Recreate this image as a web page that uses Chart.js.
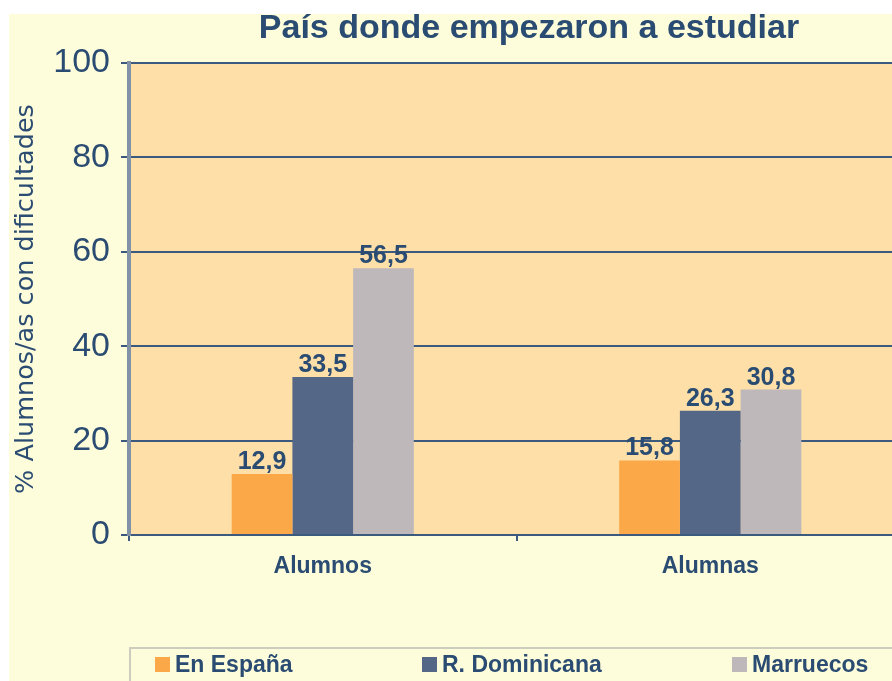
<!DOCTYPE html>
<html>
<head>
<meta charset="utf-8">
<script src="https://cdn.jsdelivr.net/npm/chart.js@4.4.1/dist/chart.umd.min.js"></script>
<style>
  html, body { margin: 0; padding: 0; background: #ffffff; width: 892px; height: 681px; overflow: hidden; }
  #wrap { position: absolute; left: 9px; top: 14px; width: 883px; height: 667px; overflow: hidden; background: #FEFDDB; }
  canvas { display: block; }
</style>
</head>
<body>
<div id="wrap"><canvas id="c" width="900" height="667"></canvas></div>
<script>
// Data
const chartTitle = 'País donde empezaron a estudiar';
const yAxisTitle = '% Alumnos/as con dificultades';
const categories = ['Alumnos', 'Alumnas'];
const seriesNames = ['En España', 'R. Dominicana', 'Marruecos'];
const enEspana = [12.9, 15.8];
const rDominicana = [33.5, 26.3];
const marruecos = [56.5, 30.8];
const yTicks = [0, 20, 40, 60, 80, 100];

// Styles
const INK = '#2B4C72';
const GRID = '#3B5A7E';
const seriesColors = ['#FBA849', '#546787', '#BEB8BB'];

const fmt = v => v.toFixed(1).replace('.', ',');

// Cream page background and peach plot area
const backgroundPlugin = {
  id: 'backgrounds',
  beforeDraw(chart) {
    const { ctx, chartArea: a } = chart;
    ctx.save();
    ctx.fillStyle = '#FEFDDB';
    ctx.fillRect(0, 0, chart.width, chart.height);
    ctx.fillStyle = '#FDDFA7';
    ctx.fillRect(a.left, a.top, a.right - a.left, a.bottom - a.top);
    ctx.restore();
  }
};

// Title text
const titlePlugin = {
  id: 'titleText',
  afterDraw(chart) {
    const ctx = chart.ctx;
    ctx.save();
    ctx.font = 'bold 34px "Liberation Sans", Arial, sans-serif';
    ctx.fillStyle = INK;
    ctx.textAlign = 'center';
    ctx.textBaseline = 'alphabetic';
    ctx.fillText(chartTitle, 520, 24);
    ctx.restore();
  }
};

// Value labels above each bar
const valueLabels = {
  id: 'valueLabels',
  afterDatasetsDraw(chart) {
    const ctx = chart.ctx;
    ctx.save();
    ctx.font = 'bold 25px "Liberation Sans", Arial, sans-serif';
    ctx.fillStyle = INK;
    ctx.textAlign = 'center';
    ctx.textBaseline = 'alphabetic';
    chart.data.datasets.forEach((ds, i) => {
      chart.getDatasetMeta(i).data.forEach((bar, j) => {
        ctx.fillText(fmt(ds.data[j]), bar.x, bar.y - 5);
      });
    });
    ctx.restore();
  }
};

// Boxed legend along the bottom
const legendBox = {
  id: 'legendBox',
  afterDraw(chart) {
    const ctx = chart.ctx;
    const itemX = [146, 413, 723];
    ctx.save();
    ctx.strokeStyle = '#CDCDBE';
    ctx.lineWidth = 2;
    ctx.strokeRect(121, 634, 900, 100);
    ctx.font = 'bold 23px "Liberation Sans", Arial, sans-serif';
    ctx.textBaseline = 'alphabetic';
    ctx.textAlign = 'left';
    chart.data.datasets.forEach((ds, i) => {
      ctx.fillStyle = ds.backgroundColor;
      ctx.fillRect(itemX[i], 643, 15, 15);
      ctx.fillStyle = INK;
      ctx.fillText(ds.label, itemX[i] + 20, 658);
    });
    ctx.restore();
  }
};

const seriesData = [enEspana, rDominicana, marruecos];

new Chart(document.getElementById('c'), {
  type: 'bar',
  data: {
    labels: categories,
    datasets: seriesNames.map((name, i) => ({
      label: name,
      data: seriesData[i],
      backgroundColor: seriesColors[i],
      borderWidth: 0,
      categoryPercentage: 0.47,
      barPercentage: 1.0
    }))
  },
  options: {
    responsive: false,
    animation: false,
    events: [],
    layout: { padding: { top: 49, left: 0, right: 5, bottom: 86 } },
    plugins: {
      legend: { display: false },
      title: { display: false },
      tooltip: { enabled: false }
    },
    scales: {
      x: {
        afterFit(s) { s.height = 60; },
        grid: {
          display: true,
          drawOnChartArea: false,
          drawTicks: true,
          tickLength: 6,
          color: GRID,
          lineWidth: 2,
          offset: true
        },
        border: { display: true, color: GRID, width: 2 },
        ticks: {
          color: INK,
          padding: 12,
          font: { family: '"Liberation Sans", Arial, sans-serif', size: 23, weight: 'bold' }
        }
      },
      y: {
        min: 0,
        max: 100,
        afterFit(s) { s.width = 120; },
        afterBuildTicks(s) { s.ticks = yTicks.map(v => ({ value: v })); },
        grid: { color: GRID, lineWidth: 2, tickLength: 8, drawTicks: true },
        border: { display: true, color: '#8293A8', width: 4 },
        ticks: {
          color: INK,
          padding: 11,
          font: { family: '"Liberation Sans", Arial, sans-serif', size: 34 }
        },
        title: {
          display: true,
          text: yAxisTitle,
          color: INK,
          padding: { top: 2, bottom: 0 },
          font: { family: '"DejaVu Sans", Verdana, sans-serif', size: 25.5 }
        }
      }
    }
  },
  plugins: [backgroundPlugin, valueLabels, titlePlugin, legendBox]
});
</script>
</body>
</html>
